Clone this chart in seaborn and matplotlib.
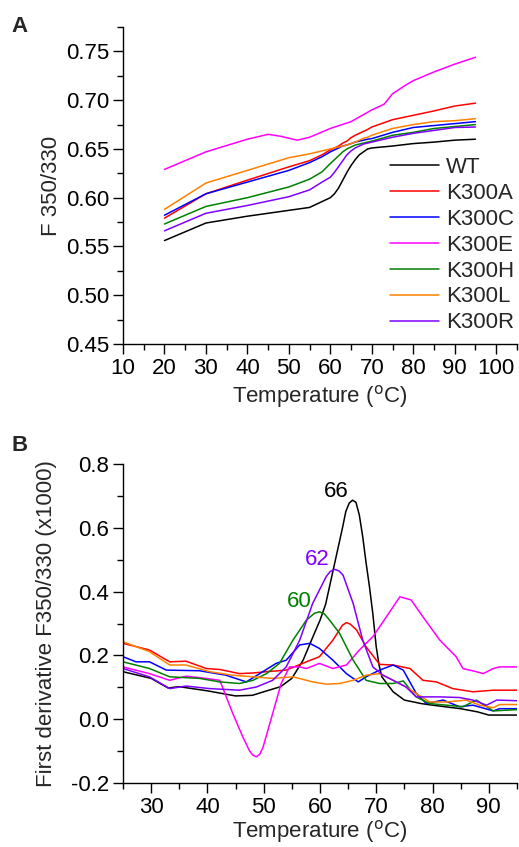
import pandas as pd
import matplotlib
matplotlib.use('Agg')
import matplotlib.pyplot as plt
import seaborn as sns
from matplotlib.ticker import MultipleLocator, FormatStrFormatter

# ---- Panel A: F350/330 ratio vs temperature ----
temp_a = [20, 30, 40, 50, 55, 58, 60, 61, 62, 63, 64, 65, 66, 67, 68, 69, 70, 75, 80, 85, 90, 95]
wt_a    = [0.556, 0.574, 0.581, 0.587, 0.590, 0.596, 0.600, 0.604, 0.610, 0.618, 0.626, 0.633, 0.639, 0.644, 0.647, 0.650, 0.651, 0.653, 0.6555, 0.657, 0.659, 0.660]
k300r_a = [0.566, 0.584, 0.592, 0.601, 0.608, 0.616, 0.621, 0.626, 0.632, 0.638, 0.644, 0.648, 0.651, 0.653, 0.655, 0.656, 0.657, 0.662, 0.666, 0.669, 0.672, 0.6725]
k300h_a = [0.573, 0.591, 0.600, 0.611, 0.619, 0.6265, 0.635, 0.639, 0.643, 0.647, 0.650, 0.652, 0.654, 0.655, 0.656, 0.657, 0.658, 0.664, 0.667, 0.671, 0.673, 0.675]
k300a_a = [0.579, 0.604, 0.618, 0.6316, 0.638, 0.644, 0.649, 0.651, 0.653, 0.656, 0.658, 0.6616, 0.664, 0.666, 0.668, 0.670, 0.6725, 0.680, 0.6845, 0.689, 0.694, 0.697]
k300c_a = [0.582, 0.604, 0.616, 0.628, 0.636, 0.642, 0.647, 0.649, 0.651, 0.653, 0.654, 0.6555, 0.657, 0.658, 0.659, 0.660, 0.6606, 0.667, 0.672, 0.674, 0.676, 0.678]
k300l_a = [0.588, 0.615, 0.628, 0.641, 0.645, 0.648, 0.650, 0.651, 0.652, 0.653, 0.654, 0.6555, 0.657, 0.659, 0.661, 0.662, 0.664, 0.671, 0.675, 0.678, 0.679, 0.681]

temp_e = [20, 30, 40, 45, 48, 50, 52, 55, 60, 65, 70, 73, 75, 78, 80, 85, 90, 95]
k300e_a = [0.629, 0.647, 0.660, 0.665, 0.663, 0.661, 0.659, 0.662, 0.671, 0.678, 0.690, 0.696, 0.7066, 0.715, 0.720, 0.729, 0.737, 0.744]

# ---- Panel B: first derivative ----
wt_t = [25, 30, 33, 35, 40, 45, 48, 50, 53, 55, 57, 59, 60, 61, 62, 63, 64, 64.6, 65.2, 65.8, 66.4, 67, 67.6, 68.2, 68.8, 69.4, 70, 70.5, 71, 73, 75, 78, 80, 85, 88, 90, 95]
wt_d = [0.149, 0.128, 0.098, 0.102, 0.089, 0.073, 0.075, 0.086, 0.102, 0.128, 0.185, 0.269, 0.310, 0.360, 0.440, 0.520, 0.600, 0.652, 0.678, 0.687, 0.680, 0.640, 0.572, 0.490, 0.415, 0.330, 0.227, 0.170, 0.133, 0.086, 0.060, 0.049, 0.044, 0.033, 0.023, 0.013, 0.013]

e_t = [25, 29.7, 33.3, 36.2, 39.8, 42.2, 44.5, 46.3, 47.5, 48.1, 48.7, 49.3, 49.9, 51.6, 53.1, 54.6, 56.4, 57.6, 59.9, 62.3, 64.7, 67.0, 69.4, 71.8, 74.2, 76.2, 78.3, 81.3, 84.2, 85.4, 87.8, 89.0, 90.8, 91.9, 95]
e_d = [0.164, 0.143, 0.122, 0.135, 0.128, 0.122, 0.018, -0.056, -0.100, -0.113, -0.118, -0.110, -0.087, 0.018, 0.112, 0.164, 0.164, 0.159, 0.175, 0.159, 0.170, 0.217, 0.259, 0.321, 0.384, 0.374, 0.321, 0.248, 0.196, 0.159, 0.149, 0.143, 0.159, 0.164, 0.164]

r_t = [25, 29.7, 33.3, 36.2, 40.4, 45.7, 48.7, 51.6, 54.0, 56.4, 58.7, 61.1, 61.8, 62.6, 63.4, 64.1, 65.9, 67.6, 69.4, 71.2, 73.0, 75.3, 77.1, 78.9, 81.3, 84.8, 87.2, 89.6, 91.4, 95]
r_d = [0.159, 0.133, 0.096, 0.104, 0.096, 0.091, 0.101, 0.122, 0.164, 0.248, 0.363, 0.447, 0.463, 0.470, 0.465, 0.452, 0.363, 0.248, 0.164, 0.138, 0.122, 0.101, 0.070, 0.070, 0.070, 0.068, 0.060, 0.044, 0.060, 0.058]

h_t = [25, 29.7, 33.3, 38.6, 42.2, 45.7, 48.1, 50.5, 52.8, 55.2, 57.6, 59.0, 59.9, 60.8, 61.7, 63.5, 65.9, 68.2, 70.6, 73.0, 74.8, 77.1, 79.5, 82.5, 85.4, 87.8, 90.8, 95]
h_d = [0.180, 0.159, 0.133, 0.128, 0.117, 0.112, 0.122, 0.143, 0.175, 0.248, 0.311, 0.332, 0.337, 0.330, 0.311, 0.269, 0.185, 0.122, 0.112, 0.112, 0.120, 0.070, 0.049, 0.044, 0.039, 0.060, 0.026, 0.030]

c_t = [25, 27.3, 29.7, 32.7, 38.6, 43.3, 46.9, 49.3, 52.2, 54.0, 56.4, 58.2, 59.9, 62.3, 64.7, 66.8, 68.2, 70.6, 73.0, 74.8, 77.1, 78.9, 81.9, 84.8, 87.2, 90.8, 91.9, 95]
c_d = [0.196, 0.180, 0.180, 0.154, 0.152, 0.138, 0.117, 0.143, 0.175, 0.185, 0.233, 0.238, 0.222, 0.185, 0.143, 0.117, 0.133, 0.154, 0.170, 0.154, 0.081, 0.049, 0.060, 0.039, 0.044, 0.026, 0.033, 0.033]

a_t = [25, 29.7, 33.3, 36.2, 39.8, 42.2, 45.7, 48.1, 50.5, 54.0, 57.6, 59.9, 62.3, 64.0, 64.7, 65.4, 66.5, 68.2, 70.6, 73.0, 76.0, 78.3, 80.7, 83.6, 87.2, 90.8, 95]
a_d = [0.238, 0.217, 0.180, 0.182, 0.159, 0.156, 0.143, 0.145, 0.149, 0.154, 0.180, 0.196, 0.248, 0.295, 0.303, 0.298, 0.280, 0.227, 0.172, 0.170, 0.159, 0.122, 0.117, 0.096, 0.086, 0.091, 0.091]

l_t = [25, 29.7, 33.3, 36.2, 40.4, 44.5, 48.1, 51.6, 55.2, 58.7, 61.1, 63.5, 65.9, 68.2, 70.6, 73.0, 75.3, 77.1, 79.5, 82.5, 86.0, 88.4, 90.8, 91.9, 95]
l_d = [0.243, 0.212, 0.170, 0.170, 0.149, 0.138, 0.133, 0.128, 0.133, 0.117, 0.110, 0.112, 0.122, 0.138, 0.143, 0.122, 0.101, 0.081, 0.054, 0.054, 0.060, 0.044, 0.036, 0.046, 0.046]

names = ['WT', 'K300A', 'K300C', 'K300E', 'K300H', 'K300L', 'K300R']
colors = ['#000000', '#ff0000', '#0000ff', '#ff00ff', '#008000', '#ff8000', '#8000ff']
palette = dict(zip(names, colors))

peak_labels = ['66', '62', '60']
peak_x = [62.9, 59.6, 56.4]
peak_y = [0.714, 0.50, 0.369]
peak_colors = ['#000000', '#8000ff', '#008000']


def long_form(pairs):
    frames = []
    for name, (t, v) in pairs.items():
        frames.append(pd.DataFrame({'T': t, 'v': v, 'sample': name}))
    return pd.concat(frames, ignore_index=True)


df_a = long_form({
    'WT': (temp_a, wt_a), 'K300A': (temp_a, k300a_a), 'K300C': (temp_a, k300c_a),
    'K300E': (temp_e, k300e_a), 'K300H': (temp_a, k300h_a), 'K300L': (temp_a, k300l_a),
    'K300R': (temp_a, k300r_a),
})
df_b = long_form({
    'WT': (wt_t, wt_d), 'K300A': (a_t, a_d), 'K300C': (c_t, c_d),
    'K300E': (e_t, e_d), 'K300H': (h_t, h_d), 'K300L': (l_t, l_d),
    'K300R': (r_t, r_d),
})

sns.set_style('ticks')
plt.rcParams['font.family'] = ['Liberation Sans', 'DejaVu Sans']
fs = 16

fig = plt.figure(figsize=(5.19, 8.47), dpi=100)
ax1 = fig.add_axes([0.237, 0.594, 0.759, 0.374])
ax2 = fig.add_axes([0.237, 0.0756, 0.759, 0.3764])

sns.lineplot(data=df_a, x='T', y='v', hue='sample', hue_order=names, palette=palette,
             estimator=None, sort=False, linewidth=1.1, ax=ax1)
sns.lineplot(data=df_b, x='T', y='v', hue='sample', hue_order=names, palette=palette,
             estimator=None, sort=False, linewidth=1.1, ax=ax2, legend=False)

for ax in (ax1, ax2):
    for s in ['top', 'right']:
        ax.spines[s].set_visible(False)
    for s in ['left', 'bottom']:
        ax.spines[s].set_linewidth(1.0)
        ax.spines[s].set_color('black')
    ax.tick_params(which='major', length=7, width=1, labelsize=fs, direction='out', colors='black', pad=3)
    ax.tick_params(which='minor', length=4, width=1, direction='out', colors='black')

ax1.set_xlabel('Temperature ($^{\\rm o}$C)', fontsize=fs, labelpad=3)
ax2.set_xlabel('Temperature ($^{\\rm o}$C)', fontsize=fs, labelpad=0)

ax1.set_xlim(10, 105)
ax1.set_ylim(0.45, 0.775)
ax1.set_xticks(range(10, 101, 10))
ax1.set_yticks([0.45, 0.50, 0.55, 0.60, 0.65, 0.70, 0.75])
ax1.yaxis.set_major_formatter(FormatStrFormatter('%.2f'))
ax1.xaxis.set_minor_locator(MultipleLocator(5))
ax1.yaxis.set_minor_locator(MultipleLocator(0.025))
ax1.set_ylabel('F 350/330', fontsize=fs, labelpad=3)
ax1.legend(loc='upper left', bbox_to_anchor=(0.678, 0.59), frameon=False, fontsize=fs,
           handlelength=2.2, handletextpad=0.3, labelspacing=0.22, borderpad=0, borderaxespad=0)

ax2.set_xlim(25, 95)
ax2.set_ylim(-0.2, 0.8)
ax2.set_xticks(range(30, 91, 10))
ax2.set_yticks([-0.2, 0.0, 0.2, 0.4, 0.6, 0.8])
ax2.yaxis.set_major_formatter(FormatStrFormatter('%.1f'))
ax2.xaxis.set_minor_locator(MultipleLocator(5))
ax2.yaxis.set_minor_locator(MultipleLocator(0.1))
ax2.set_ylabel('First derivative F350/330 (x1000)', fontsize=fs, labelpad=10)

for lab, x, y, c in zip(peak_labels, peak_x, peak_y, peak_colors):
    ax2.text(x, y, lab, color=c, fontsize=fs, ha='center', va='center')

fig.text(0.023, 0.981, 'A', fontsize=16, fontweight='bold', va='top')
fig.text(0.023, 0.487, 'B', fontsize=16, fontweight='bold', va='top')

fig.savefig('out.png', dpi=100)
